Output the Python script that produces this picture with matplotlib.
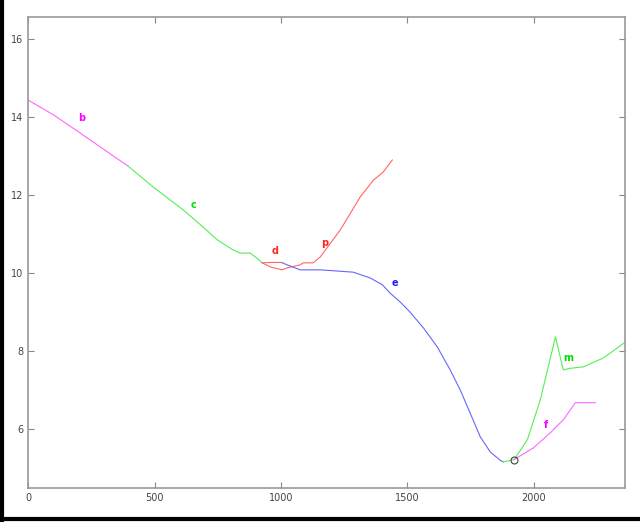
import matplotlib
matplotlib.use('Agg')
import matplotlib.pyplot as plt
from matplotlib.lines import Line2D

# curve b (magenta)
b_x = [0, 100, 200, 300, 396]
b_y = [14.44, 14.06, 13.62, 13.17, 12.74]

# curve c (green)
c_x = [396, 494, 613, 692, 748, 811, 839, 878, 905, 926]
c_y = [12.74, 12.21, 11.62, 11.18, 10.85, 10.59, 10.51, 10.51, 10.38, 10.26]

# curve d (red, upper branch)
d_x = [926, 960, 1005]
d_y = [10.26, 10.27, 10.27]

# curve p (red, lower branch then rising)
p_x = [926, 960, 1005, 1024, 1076, 1088, 1108, 1127, 1155, 1234, 1313, 1365, 1404, 1440]
p_y = [10.26, 10.15, 10.08, 10.13, 10.21, 10.26, 10.26, 10.26, 10.41, 11.10, 11.95, 12.38, 12.59, 12.90]

# curve e (blue)
e_x = [1005, 1024, 1076, 1155, 1222, 1286, 1353, 1400, 1432, 1472, 1511, 1563, 1618,
       1669, 1709, 1748, 1788, 1828, 1867, 1879]
e_y = [10.26, 10.21, 10.08, 10.08, 10.05, 10.02, 9.87, 9.70, 9.48, 9.25, 8.99, 8.59, 8.10,
       7.51, 6.99, 6.40, 5.79, 5.40, 5.19, 5.15]

# curve m (green)
m_x = [1879, 1922, 1974, 2025, 2085, 2116, 2140, 2195, 2275, 2362]
m_y = [5.15, 5.21, 5.72, 6.74, 8.36, 7.51, 7.55, 7.59, 7.82, 8.23]

# curve f (magenta)
f_x = [1922, 1934, 1998, 2065, 2116, 2164, 2243]
f_y = [5.21, 5.26, 5.51, 5.90, 6.23, 6.67, 6.67]

# start point marker
pt_x = [1922]
pt_y = [5.21]

# labels
lab_text = ['b', 'c', 'd', 'p', 'e', 'm', 'f']
lab_x = [214, 653, 977, 1171, 1452, 2136, 2049]
lab_y = [13.97, 11.74, 10.56, 10.77, 9.74, 7.82, 6.10]
lab_col = ['#ff00ff', '#00dd00', '#ff2222', '#ff2222', '#2222ff', '#00dd00', '#ff00ff']

fig = plt.figure(figsize=(6.4, 5.22), dpi=100)
ax = fig.add_axes([0.0438, 0.0651, 0.9328, 0.9023])

lw = 0.8
ax.plot(b_x, b_y, color='#ff66ff', lw=lw)
ax.plot(c_x, c_y, color='#55ee55', lw=lw)
ax.plot(d_x, d_y, color='#ff6666', lw=lw)
ax.plot(p_x, p_y, color='#ff6666', lw=lw)
ax.plot(e_x, e_y, color='#6666ff', lw=lw)
ax.plot(m_x, m_y, color='#55ee55', lw=lw)
ax.plot(f_x, f_y, color='#ff66ff', lw=lw)
ax.plot(pt_x, pt_y, 'o', mfc='none', mec='#444444', ms=5, mew=0.8)

for t, x, y, c in zip(lab_text, lab_x, lab_y, lab_col):
    ax.text(x, y, t, color=c, fontsize=7, fontweight='bold', ha='center', va='center')

ax.set_xlim(0, 2360)
ax.set_ylim(4.48, 16.57)
ax.set_xticks([0, 500, 1000, 1500, 2000])
ax.set_yticks([6, 8, 10, 12, 14, 16])
ax.tick_params(direction='in', top=True, right=True, length=4, width=0.8,
               colors='#888888', labelcolor='#444444', labelsize=7)
for s in ax.spines.values():
    s.set_color('#999999')
    s.set_linewidth(1.2)

# black frame lines at left and bottom of the picture
fig.add_artist(Line2D([0.003, 0.003], [0, 1], color='black', lw=3, transform=fig.transFigure))
fig.add_artist(Line2D([0, 1], [0.006, 0.006], color='black', lw=3, transform=fig.transFigure))

fig.savefig('out.png', dpi=100)
